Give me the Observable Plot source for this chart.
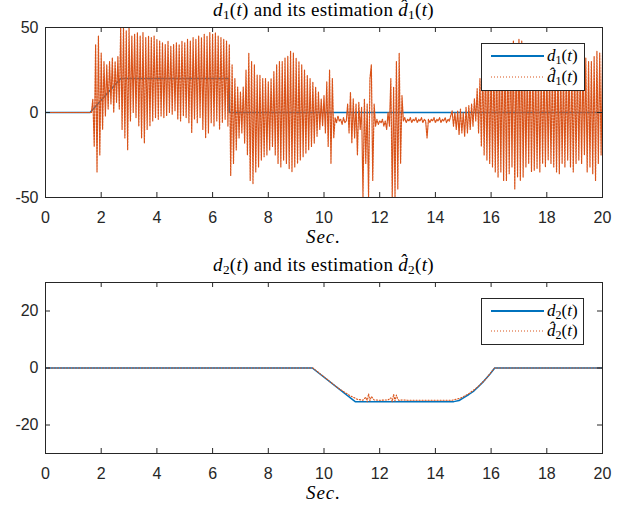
<!DOCTYPE html>
<html>
<head>
<meta charset="utf-8">
<script src="https://cdn.jsdelivr.net/npm/d3@7"></script>
<script src="https://cdn.jsdelivr.net/npm/@observablehq/plot@0.6"></script>
<style>
  html, body { margin: 0; padding: 0; background: #fff; }
  #wrap { position: relative; width: 629px; height: 507px; background: #fff; overflow: hidden; }
  .panel { position: absolute; left: 0; }
  .ttl { position: absolute; left: 45px; width: 557px; text-align: center; font-family: "Liberation Serif", serif; font-size: 19px; letter-spacing: 0.3px; line-height: 20px; color: #000; white-space: nowrap; }
  .ttl sub { font-size: 0.7em; vertical-align: -0.25em; line-height: 0; }
  .sec { letter-spacing: 1px; line-height: 14px; }
  .leg { position: absolute; }
</style>
</head>
<body>
<div id="wrap">
  <div class="panel" id="p1" style="top:0px"></div>
  <div class="panel" id="p2" style="top:250px"></div>
  <div class="ttl" style="top:0px"><i>d</i><sub>1</sub>(<i>t</i>) and its estimation <i>d&#770;</i><sub>1</sub>(<i>t</i>)</div>
  <div class="ttl sec" style="top:230px"><i>Sec.</i></div>
  <div class="ttl" style="top:255px"><i>d</i><sub>2</sub>(<i>t</i>) and its estimation <i>d&#770;</i><sub>2</sub>(<i>t</i>)</div>
  <div class="ttl sec" style="top:486px"><i>Sec.</i></div>
</div>
<script>
// ---------- data ----------
const xTicks = [0, 2, 4, 6, 8, 10, 12, 14, 16, 18, 20];
const y1Ticks = [-50, 0, 50];
const y2Ticks = [-20, 0, 20];

// d1(t): reference disturbance (breakpoints)
const d1Time  = [0, 1.6, 2.7, 6.6, 6.6, 20];
const d1Value = [0, 0, 20, 20, 0, 0];

// d1-hat(t): estimate sampled every 0.05 s from t = 0 to 20 (401 samples)
const d1hatStep = 0.05;
const d1hatValue = [
  0,0,0,0,0,0,0,0,0,0, 0,0,0,0,0,0,0,0,0,0, 0,0,0,0,0,0,0,0,0,0, 0,0,0,0,
  8,-20,40,-35,45,-25,35,-10,30,-2,
  28,2,30,5,32,0,30,6,33,2,
  50,-10,50,-15,48,-22,50,-5,45,0,
  46,-3,47,-8,45,-15,47,-18,44,-10,
  45,-8,44,-5,45,-3,43,-4,42,-2,
  41,-3,40,-2,42,0,39,-1,40,1,
  41,-4,40,-5,42,-2,41,-3,43,-6,
  42,-12,44,-4,43,-6,45,-3,44,-10,
  46,-15,45,-12,47,-6,46,-8,47,-5,
  45,-10,44,-6,43,-4,42,-8,40,-37,
  28,-30,20,-22,15,-15,12,-12,15,-18,
  25,-25,35,-40,30,-42,28,-35,22,-32,
  22,-28,20,-26,20,-25,18,-22,20,-20,
  24,-25,28,-30,30,-32,30,-28,32,-30,
  33,-33,36,-35,35,-32,32,-30,30,-28,
  28,-26,25,-24,22,-22,20,-20,18,-18,
  15,-14,12,-10,8,-8,10,-12,18,-20,
  25,-30,20,-15,-3,-6,-2,-5,-4,-7,
  -3,-6,-5,5,-12,12,-18,8,-15,5,
  -25,6,-10,3,-50,8,-30,5,-50,20,
  28,-40,5,-8,-4,-7,-5,-6,-4,-8,
  -5,-10,0,-8,20,-50,15,-50,30,-45,
  35,-30,10,-5,-3,-6,-4,-5,-3,-6,
  -4,-5,-3,-6,-4,-5,-3,-6,-4,-5,
  -15,-4,-6,-4,-5,-3,-6,-4,-5,-3,
  -6,-4,-5,-3,-6,-4,-5,-2,1,-8,
  0,-10,1,-13,2,-12,0,-14,3,-12,
  4,-10,5,-8,8,-5,14,-12,20,-20,
  28,-25,30,-28,32,-30,30,-32,32,-35,
  35,-38,33,-35,38,-40,36,-40,38,-36,
  40,-32,42,-45,40,-38,43,-40,42,-38,
  33,-32,30,-30,32,-35,30,-34,30,-33,
  28,-35,28,-30,30,-32,30,-28,28,-30,
  28,-32,30,-35,30,-36,28,-30,28,-32,
  30,-28,30,-32,28,-35,30,-30,30,-28,
  28,-30,30,-25,32,-35,30,-32,30,-36,
  33,-40,36,-30,35,-25,35
];

// d2(t): reference disturbance (breakpoints)
const d2Time  = [0, 9.58, 11.12, 14.66, 14.85, 15.02, 15.2, 15.38, 15.56, 15.74, 15.94, 16.13, 20];
const d2Value = [0, 0, -11.8, -11.8, -11.4, -10.4, -9.3, -8.1, -6.4, -4.6, -2.4, 0, 0];

// d2-hat(t): estimate
const d2hatTime  = [0, 9.6, 10.5, 10.95, 11.2, 11.4, 11.5, 11.55, 11.6, 11.65, 11.7, 11.8, 12.0, 12.3, 12.4, 12.45, 12.5, 12.55, 12.6, 12.65, 12.7, 12.8, 13.0, 14.6, 14.9, 15.2, 15.5, 15.8, 16.12, 20];
const d2hatValue = [0, 0, -7, -9.8, -11.0, -11.3, -10.2, -11.8, -9, -11.5, -10, -11.2, -11.3, -11.2, -10.5, -11.8, -9.2, -11.6, -9.5, -11.0, -11.4, -11.2, -11.3, -11.3, -10.6, -9.0, -6.8, -4.0, 0, 0];

// ---------- build tables ----------
const d1 = d1Time.map((t, i) => ({t, v: d1Value[i]}));
const d1hat = d1hatValue.map((v, i) => ({t: +(i * d1hatStep).toFixed(2), v}));
const d2 = d2Time.map((t, i) => ({t, v: d2Value[i]}));
const d2hat = d2hatTime.map((t, i) => ({t, v: d2hatValue[i]}));

const BLUE = "#0072BD", ORANGE = "#D95319", AX = "#262626";

function panel({height, marginTop, marginBottom, yDomain, yTicks, data, est, estWidth, estDash}) {
  const frameH = height - marginTop - marginBottom;
  const frameW = 629 - 45 - 27;
  const tl = 5;
  return Plot.plot({
    width: 629, height, marginTop, marginBottom, marginLeft: 45, marginRight: 27,
    style: {fontFamily: "'Liberation Sans', Arial, sans-serif", fontSize: "16px", color: AX, background: "white"},
    x: {domain: [0, 20], ticks: xTicks, tickSize: 0, tickPadding: 14, label: null, tickFormat: d => String(d)},
    y: {domain: yDomain, ticks: yTicks, tickSize: 0, tickPadding: 7, label: null, tickFormat: d => String(d)},
    marks: [
      Plot.line(data, {x: "t", y: "v", stroke: BLUE, strokeWidth: 1.5, clip: true}),
      Plot.line(est, {x: "t", y: "v", stroke: ORANGE, strokeWidth: estWidth, strokeDasharray: estDash, clip: true}),
      Plot.tickX(xTicks, {x: d => d, insetTop: frameH - tl, stroke: AX}),
      Plot.tickX(xTicks, {x: d => d, insetBottom: frameH - tl, stroke: AX}),
      Plot.tickY(yTicks, {y: d => d, insetRight: frameW - tl, stroke: AX}),
      Plot.tickY(yTicks, {y: d => d, insetLeft: frameW - tl, stroke: AX}),
      Plot.frame({stroke: AX})
    ]
  });
}

document.getElementById("p1").appendChild(panel({
  height: 250, marginTop: 27, marginBottom: 53, yDomain: [-50, 50], yTicks: y1Ticks,
  data: d1, est: d1hat, estWidth: 1.2, estDash: "2,1"
}));
document.getElementById("p2").appendChild(panel({
  height: 257, marginTop: 32, marginBottom: 54, yDomain: [-30, 30], yTicks: y2Ticks,
  data: d2, est: d2hat, estWidth: 1.1, estDash: "1.2,1.8"
}));

// ---------- legends ----------
function legend(left, top, w, h, sub, y1, y2) {
  const svg = d3.create("svg").attr("class", "leg")
    .attr("width", w).attr("height", h)
    .style("left", left + "px").style("top", top + "px");
  svg.append("rect").attr("x", 0.5).attr("y", 0.5).attr("width", w - 1).attr("height", h - 1)
    .attr("fill", "white").attr("stroke", AX).attr("stroke-width", 1);
  svg.append("line").attr("x1", 10).attr("x2", 63).attr("y1", y1).attr("y2", y1)
    .attr("stroke", BLUE).attr("stroke-width", 2);
  svg.append("line").attr("x1", 10).attr("x2", 63).attr("y1", y2).attr("y2", y2)
    .attr("stroke", ORANGE).attr("stroke-width", 1).attr("stroke-dasharray", "1,2");
  [[y1, "d"], [y2, "d\u0302"]].forEach(([yy, letter]) => {
    const t = svg.append("text").attr("x", 66).attr("y", yy + 5)
      .attr("font-family", "'Liberation Serif', serif").attr("font-size", 17).attr("fill", "#000");
    t.append("tspan").attr("font-style", "italic").text(letter);
    t.append("tspan").attr("font-size", 12).attr("dy", 3).text(sub);
    t.append("tspan").attr("dy", -3).text("(");
    t.append("tspan").attr("font-style", "italic").text("t");
    t.append("tspan").text(")");
  });
  document.getElementById("wrap").appendChild(svg.node());
}
legend(481, 43, 104, 48, "1", 13, 34);
legend(481, 298, 103, 47, "2", 13, 33);

if (d1hatValue.length !== 401) throw new Error("d1hat length " + d1hatValue.length);
</script>
</body>
</html>
